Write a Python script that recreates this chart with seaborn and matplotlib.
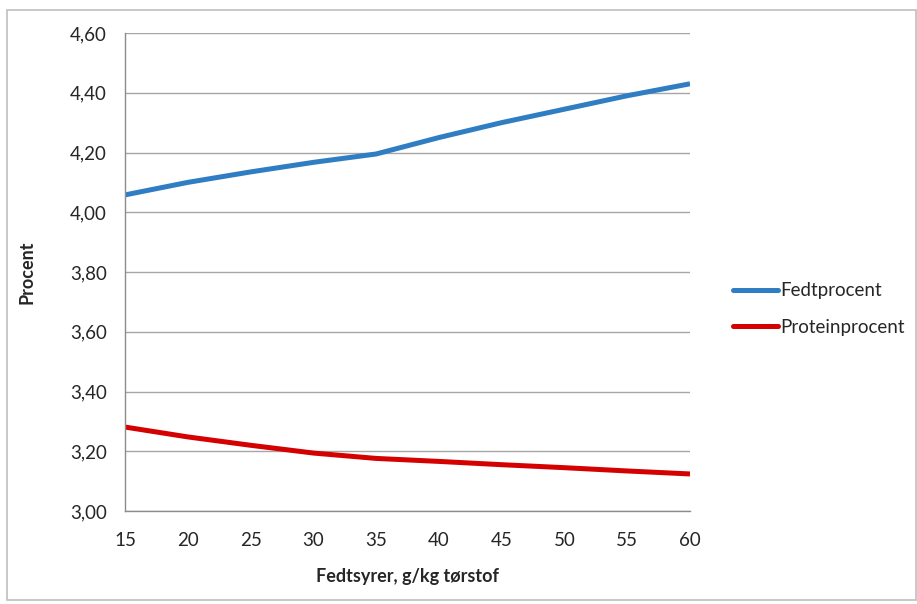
import matplotlib
matplotlib.use("Agg")
import matplotlib.pyplot as plt
import matplotlib.patches as mpatches
import seaborn as sns
import pandas as pd

# Fedtsyrer i foderet, g/kg tørstof
fedtsyrer = [15, 20, 25, 30, 35, 40, 45, 50, 55, 60]
# Mælkens fedt- og proteinprocent
fedtprocent = [4.058, 4.100, 4.135, 4.167, 4.195, 4.250, 4.300, 4.345, 4.390, 4.430]
proteinprocent = [3.281, 3.248, 3.220, 3.194, 3.176, 3.166, 3.155, 3.145, 3.134, 3.124]
serier = ["Fedtprocent", "Proteinprocent"]
y_ticks = [3.0, 3.2, 3.4, 3.6, 3.8, 4.0, 4.2, 4.4, 4.6]
x_ticks = [15, 20, 25, 30, 35, 40, 45, 50, 55, 60]

df = pd.DataFrame({
    "Fedtsyrer": fedtsyrer * 2,
    "Procent": fedtprocent + proteinprocent,
    "Serie": [serier[0]] * len(fedtsyrer) + [serier[1]] * len(fedtsyrer),
})

sns.set_theme(style="white")
plt.rcParams["font.family"] = ["Lato", "DejaVu Sans"]

W, H = 917, 604
fig = plt.figure(figsize=(W / 100, H / 100), dpi=100)
ax = fig.add_axes([125 / W, 1 - 511 / H, (690 - 125) / W, (511 - 33) / H])

palette = {"Fedtprocent": "#2F7DC2", "Proteinprocent": "#D50000"}
sns.lineplot(data=df, x="Fedtsyrer", y="Procent", hue="Serie", palette=palette,
             linewidth=3.6, ax=ax, legend=False, solid_capstyle="butt")

ax.set_xlim(15, 60)
ax.set_ylim(3.0, 4.6)
ax.set_xticks(x_ticks)
ax.set_yticks(y_ticks)
ax.set_xticklabels([str(v) for v in x_ticks])
ax.set_yticklabels([f"{v:.2f}".replace(".", ",") for v in y_ticks])
ax.tick_params(axis="both", labelsize=13.5, length=5, width=0.9,
               direction="out", color="#8C8C8C", labelcolor="#262626")
ax.tick_params(axis="x", pad=10)
ax.tick_params(axis="y", pad=8)

ax.grid(axis="y", color="#A6A6A6", linewidth=1.0)
ax.set_axisbelow(True)
for side in ["top", "right"]:
    ax.spines[side].set_visible(False)
for side in ["left", "bottom"]:
    ax.spines[side].set_color("#8C8C8C")
    ax.spines[side].set_linewidth(1.0)

ax.set_xlabel("Fedtsyrer, g/kg tørstof", fontsize=13, fontweight="bold",
              color="#262626", labelpad=14)
ax.set_ylabel("Procent", fontsize=13, fontweight="bold", color="#262626",
              labelpad=25)

# Legende til højre for tegneområdet
handles = [plt.Line2D([0], [0], color=palette[s], linewidth=3.6) for s in serier]
fig.legend(handles, serier, loc="center left",
           bbox_to_anchor=(716 / W, 1 - 309 / H), frameon=False,
           fontsize=13.5, handlelength=2.4, handletextpad=0.1,
           labelspacing=1.05, labelcolor="#262626")

# Ramme om hele diagrammet
fig.patches.append(mpatches.Rectangle((7 / W, 1 - 600 / H), (W - 8) / W,
                                      (600 - 10) / H, transform=fig.transFigure,
                                      fill=False, edgecolor="#BFBFBF",
                                      linewidth=1.2))

fig.savefig("out.png", dpi=100)
